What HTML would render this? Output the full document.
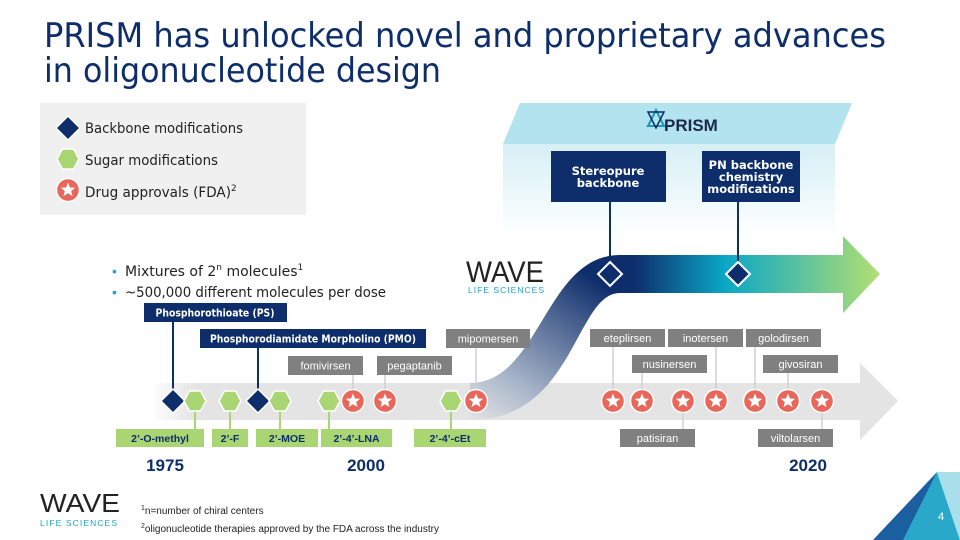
<!DOCTYPE html>
<html><head><meta charset="utf-8"><style>
html,body{margin:0;padding:0;background:#fff}
svg{display:block}
text{font-family:"Liberation Sans","DejaVu Sans",sans-serif}
.b{font-family:"DejaVu Sans","Liberation Sans",sans-serif;font-weight:bold}
.v{font-family:"DejaVu Sans","Liberation Sans",sans-serif}
</style></head><body>
<svg width="960" height="540" viewBox="0 0 960 540" xmlns="http://www.w3.org/2000/svg">
<defs>
<linearGradient id="gray" x1="0" x2="1" y1="0" y2="0">
<stop offset="0" stop-color="#e6e6e6" stop-opacity="0"/><stop offset="0.06" stop-color="#e4e4e4"/><stop offset="1" stop-color="#e4e4e4"/></linearGradient>
<linearGradient id="arr" gradientUnits="userSpaceOnUse" x1="470" y1="0" x2="880" y2="0">
<stop offset="0" stop-color="#cfd5de"/><stop offset="0.3" stop-color="#0d2d6b"/><stop offset="0.4" stop-color="#0d2d6b"/><stop offset="0.62" stop-color="#0aa7c6"/><stop offset="1" stop-color="#b3df72"/></linearGradient>
<linearGradient id="curv" x1="0" y1="1" x2="0.6" y2="0">
<stop offset="0" stop-color="#e4e4e4"/><stop offset="0.3" stop-color="#a9b6c9"/><stop offset="1" stop-color="#0d2d6b"/></linearGradient>
<linearGradient id="front" x1="0" y1="0" x2="0" y2="1">
<stop offset="0" stop-color="#d6eff5"/><stop offset="1" stop-color="#ffffff"/></linearGradient>
<g id="star"><circle r="11.5" fill="#e8675a" stroke="#fff" stroke-width="1.5"/><polygon fill="#fff" points="0,-7.5 2,-2.5 7.2,-2.3 3.2,1 4.5,6.1 0,3.2 -4.5,6.1 -3.2,1 -7.2,-2.3 -2,-2.5"/></g>
<g id="hex"><polygon fill="#a9d672" stroke="#fff" stroke-width="1.5" points="-11,0 -5.5,-10 5.5,-10 11,0 5.5,10 -5.5,10"/></g>
<g id="dia"><polygon fill="#0d2d6b" stroke="#fff" stroke-width="1.5" points="0,-12 12,0 0,12 -12,0"/></g>
</defs>

<!-- title -->
<text x="44" y="47" font-size="34" fill="#0d2d6b" class="v" textLength="842" lengthAdjust="spacingAndGlyphs">PRISM has unlocked novel and proprietary advances</text>
<text x="44" y="82" font-size="34" fill="#0d2d6b" class="v" textLength="397" lengthAdjust="spacingAndGlyphs">in oligonucleotide design</text>

<!-- legend -->
<rect x="40" y="103" width="266" height="112" fill="#f0f0f0"/>
<use href="#dia" x="68" y="128"/>
<use href="#hex" x="68" y="159"/>
<use href="#star" x="68" y="190"/>
<text x="85" y="133" font-size="14.5" fill="#222" class="v" textLength="158" lengthAdjust="spacingAndGlyphs">Backbone modifications</text>
<text x="85" y="165" font-size="14.5" fill="#222" class="v" textLength="133" lengthAdjust="spacingAndGlyphs">Sugar modifications</text>
<text x="85" y="197" font-size="14.5" fill="#222" class="v"><tspan textLength="146" lengthAdjust="spacingAndGlyphs">Drug approvals (FDA)</tspan><tspan font-size="9" dy="-6">2</tspan></text>

<!-- bullets -->
<text x="112" y="276" font-size="14" fill="#1aa6c8">•</text>
<text x="125" y="276" font-size="14" fill="#222" class="v">Mixtures of 2<tspan font-size="9" dy="-6">n</tspan><tspan dy="6"> molecules</tspan><tspan font-size="9" dy="-6">1</tspan></text>
<text x="112" y="297" font-size="14" fill="#1aa6c8">•</text>
<text x="125" y="297" font-size="14.5" fill="#222" class="v" textLength="261" lengthAdjust="spacingAndGlyphs">~500,000 different molecules per dose</text>

<!-- PRISM box -->
<rect x="503" y="144" width="332" height="92" fill="url(#front)"/>
<polygon points="503,144 520,103 852,103 835,144" fill="#b3e3ee"/>
<polygon points="648,126 656,110 664,126" fill="none" stroke="#1a9bbd" stroke-width="2"/>
<polygon points="648,112 656,128 664,112" fill="none" stroke="#0d2d6b" stroke-width="1.5"/>
<text x="664" y="131" font-size="17" fill="#1a2a4a" font-weight="bold">PRISM</text>
<rect x="551" y="151" width="115" height="51" fill="#0d2d6b"/>
<text x="608" y="175" font-size="11.5" fill="#fff" class="b" text-anchor="middle">Stereopure</text>
<text x="608" y="187" font-size="11.5" fill="#fff" class="b" text-anchor="middle">backbone</text>
<rect x="702" y="151" width="98" height="51" fill="#0d2d6b"/>
<text x="751" y="169" font-size="11.5" fill="#fff" class="b" text-anchor="middle">PN backbone</text>
<text x="751" y="181" font-size="11.5" fill="#fff" class="b" text-anchor="middle">chemistry</text>
<text x="751" y="193" font-size="11.5" fill="#fff" class="b" text-anchor="middle">modifications</text>

<!-- gray arrow -->
<polygon points="150,383 860,383 860,363 898,401 860,440 860,420 150,420" fill="url(#gray)"/>

<!-- S curve + upper arrow -->
<path d="M470,383 C540,383 545,255 620,255 L620,293 C575,293 575,420 470,420 Z" fill="url(#curv)"/>
<polygon points="618,255 843,255 843,236 880,274 843,313 843,293 618,293" fill="url(#arr)"/>
<line x1="610" y1="202" x2="610" y2="262" stroke="#0d2d6b" stroke-width="2"/>
<line x1="738" y1="202" x2="738" y2="262" stroke="#0d2d6b" stroke-width="2"/>
<polygon points="610,262 622,274 610,286 598,274" fill="#0d2d6b" stroke="#fff" stroke-width="2"/>
<polygon points="738,262 750,274 738,286 726,274" fill="#0d2d6b" stroke="#fff" stroke-width="2"/>

<!-- WAVE mid logo -->
<text x="466" y="282" font-size="30" fill="#222" textLength="78" lengthAdjust="spacingAndGlyphs">WAVE</text>
<text x="468" y="293" font-size="8.5" fill="#1aa6c8" textLength="76" lengthAdjust="spacing">LIFE SCIENCES</text>

<!-- connectors -->
<g stroke="#d0d0d0" stroke-width="1.5">
<line x1="353" y1="375" x2="353" y2="395"/><line x1="385" y1="375" x2="385" y2="395"/>
<line x1="476" y1="348" x2="476" y2="395"/><line x1="613" y1="347" x2="613" y2="395"/>
<line x1="642" y1="373" x2="642" y2="395"/><line x1="683" y1="405" x2="683" y2="429"/>
<line x1="716" y1="347" x2="716" y2="395"/><line x1="755" y1="347" x2="755" y2="395"/>
<line x1="788" y1="373" x2="788" y2="395"/><line x1="822" y1="405" x2="822" y2="429"/>
</g>
<g stroke="#a9d672" stroke-width="2">
<line x1="195" y1="405" x2="195" y2="429"/><line x1="230" y1="405" x2="230" y2="429"/>
<line x1="280" y1="405" x2="280" y2="429"/><line x1="329" y1="405" x2="329" y2="429"/>
<line x1="451" y1="405" x2="451" y2="429"/>
</g>
<line x1="173" y1="322" x2="173" y2="395" stroke="#0d2d6b" stroke-width="2"/>
<line x1="258" y1="348" x2="258" y2="395" stroke="#0d2d6b" stroke-width="2"/>

<!-- navy labels -->
<rect x="144" y="303" width="143" height="19" fill="#0d2d6b"/>
<text x="215" y="316.5" font-size="10.5" fill="#fff" class="b" text-anchor="middle" textLength="119" lengthAdjust="spacingAndGlyphs">Phosphorothioate (PS)</text>
<rect x="200" y="329" width="226" height="19" fill="#0d2d6b"/>
<text x="313" y="342.5" font-size="10.5" fill="#fff" class="b" text-anchor="middle" textLength="206" lengthAdjust="spacingAndGlyphs">Phosphorodiamidate Morpholino (PMO)</text>

<!-- gray labels -->
<g fill="#808080">
<rect x="446" y="329" width="84" height="19"/><rect x="288" y="356" width="75" height="19"/><rect x="377" y="356" width="75" height="19"/>
<rect x="590" y="329" width="75" height="18"/><rect x="668" y="329" width="75" height="18"/><rect x="746" y="329" width="75" height="18"/>
<rect x="632" y="355" width="75" height="18"/><rect x="763" y="355" width="75" height="18"/>
<rect x="620" y="429" width="75" height="18"/><rect x="758" y="429" width="75" height="18"/>
</g>
<g fill="#fff" font-size="11" text-anchor="middle" class="v">
<text x="488" y="342.5">mipomersen</text><text x="325.5" y="369.5">fomivirsen</text><text x="414.5" y="369.5">pegaptanib</text>
<text x="627.5" y="342">eteplirsen</text><text x="705.5" y="342">inotersen</text><text x="783.5" y="342">golodirsen</text>
<text x="669.5" y="368">nusinersen</text><text x="800.5" y="368">givosiran</text>
<text x="657.5" y="442">patisiran</text><text x="795.5" y="442">viltolarsen</text>
</g>

<!-- green labels -->
<g fill="#a9d672">
<rect x="116" y="429" width="88" height="18"/><rect x="212" y="429" width="36" height="18"/><rect x="256" y="429" width="62" height="18"/>
<rect x="321" y="429" width="71" height="18"/><rect x="414" y="429" width="72" height="18"/>
</g>
<g fill="#0d2d6b" font-size="10.5" text-anchor="middle" class="b">
<text x="160" y="442">2’-O-methyl</text><text x="230" y="442">2’-F</text><text x="287" y="442">2’-MOE</text>
<text x="356.5" y="442">2’-4’-LNA</text><text x="450" y="442">2’-4’-cEt</text>
</g>

<!-- markers -->
<use href="#dia" x="173" y="401"/><use href="#dia" x="258" y="401"/>
<use href="#hex" x="195" y="401"/><use href="#hex" x="230" y="401"/><use href="#hex" x="280" y="401"/>
<use href="#hex" x="329" y="401"/><use href="#hex" x="451" y="401"/>
<use href="#star" x="353" y="401"/><use href="#star" x="385" y="401"/><use href="#star" x="476" y="401"/>
<use href="#star" x="613" y="401"/><use href="#star" x="642" y="401"/><use href="#star" x="683" y="401"/>
<use href="#star" x="716" y="401"/><use href="#star" x="755" y="401"/><use href="#star" x="788" y="401"/><use href="#star" x="822" y="401"/>

<!-- years -->
<g fill="#0d2d6b" font-size="17" class="b" text-anchor="middle">
<text x="165" y="471">1975</text><text x="366" y="471">2000</text><text x="808" y="471">2020</text>
</g>

<!-- bottom logo -->
<text x="40" y="512" font-size="26" fill="#222" textLength="80" lengthAdjust="spacingAndGlyphs">WAVE</text>
<text x="40" y="526" font-size="8.5" fill="#1aa6c8" textLength="77" lengthAdjust="spacing">LIFE SCIENCES</text>

<!-- footnotes -->
<text x="141" y="514" font-size="10" fill="#222"><tspan font-size="7" dy="-4">1</tspan><tspan dy="4">n=number of chiral centers</tspan></text>
<text x="141" y="532" font-size="10" fill="#222"><tspan font-size="7" dy="-4">2</tspan><tspan dy="4">oligonucleotide therapies approved by the FDA across the industry</tspan></text>

<!-- corner -->
<polygon points="873,540 937,472 918,540" fill="#1b5fa0"/>
<polygon points="903,540 937,472 960,540" fill="#29a8c9"/>
<polygon points="937,472 960,472 960,540" fill="#a8dfeb"/>
<text x="941" y="520" font-size="11" fill="#fff" text-anchor="middle">4</text>
</svg>
</body></html>
